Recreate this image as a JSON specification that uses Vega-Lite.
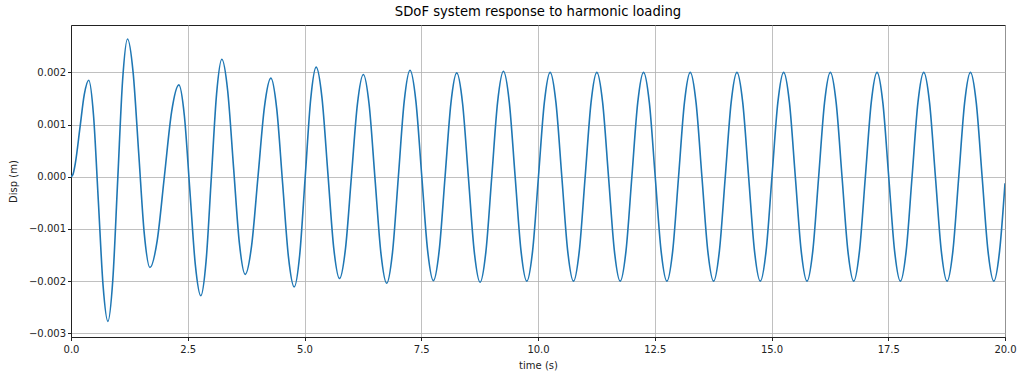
{
  "$schema": "https://vega.github.io/schema/vega-lite/v6.json",
  "width": 934,
  "height": 312,
  "autosize": "none",
  "padding": {"left": 71, "top": 25, "right": 19, "bottom": 41},
  "title": {"text": "SDoF system response to harmonic loading", "fontSize": 13.2, "font": "DejaVu Sans", "fontWeight": "normal", "color": "#000", "offset": 6, "anchor": "middle"},
  "config": {
    "view": {"stroke": "#222", "strokeWidth": 1},
    "axis": {
      "labelFont": "DejaVu Sans", "labelFontSize": 10, "labelColor": "#222",
      "titleFont": "DejaVu Sans", "titleFontSize": 10, "titleFontWeight": "normal", "titleColor": "#222",
      "grid": true, "gridColor": "#b0b0b0", "gridWidth": 0.8,
      "domainColor": "#222", "tickColor": "#222", "tickSize": 3.5, "labelPadding": 2,
      "labelFlush": false
    }
  },
  "data": {"values": [
    {"t": 0, "d": 0},
    {"t": 0.04, "d": 0.00004},
    {"t": 0.095, "d": 0.000271},
    {"t": 0.19, "d": 0.000925},
    {"t": 0.285, "d": 0.001579},
    {"t": 0.38, "d": 0.00185},
    {"t": 0.4825, "d": 0.001174},
    {"t": 0.585, "d": -0.00046},
    {"t": 0.6875, "d": -0.002094},
    {"t": 0.79, "d": -0.00277},
    {"t": 0.895, "d": -0.001978},
    {"t": 1.0, "d": -0.000065},
    {"t": 1.105, "d": 0.001848},
    {"t": 1.21, "d": 0.00264},
    {"t": 1.33, "d": 0.001999},
    {"t": 1.45, "d": 0.00045},
    {"t": 1.57, "d": -0.001099},
    {"t": 1.69, "d": -0.00174},
    {"t": 1.845, "d": -0.001228},
    {"t": 2.0, "d": 0.00001},
    {"t": 2.155, "d": 0.001248},
    {"t": 2.31, "d": 0.00176},
    {"t": 2.4275, "d": 0.001169},
    {"t": 2.545, "d": -0.00026},
    {"t": 2.6625, "d": -0.001689},
    {"t": 2.78, "d": -0.00228},
    {"t": 2.8925, "d": -0.001617},
    {"t": 3.005, "d": -0.000015},
    {"t": 3.1175, "d": 0.001587},
    {"t": 3.23, "d": 0.00225},
    {"t": 3.355, "d": 0.001647},
    {"t": 3.48, "d": 0.00019},
    {"t": 3.605, "d": -0.001267},
    {"t": 3.73, "d": -0.00187},
    {"t": 3.8675, "d": -0.00132},
    {"t": 4.005, "d": 0.00001},
    {"t": 4.1425, "d": 0.00134},
    {"t": 4.28, "d": 0.00189},
    {"t": 4.405, "d": 0.001304},
    {"t": 4.53, "d": -0.00011},
    {"t": 4.655, "d": -0.001524},
    {"t": 4.78, "d": -0.00211},
    {"t": 4.8975, "d": -0.001494},
    {"t": 5.015, "d": -0.000005},
    {"t": 5.1325, "d": 0.001484},
    {"t": 5.25, "d": 0.0021},
    {"t": 5.375, "d": 0.001507},
    {"t": 5.5, "d": 0.000075},
    {"t": 5.625, "d": -0.001357},
    {"t": 5.75, "d": -0.00195},
    {"t": 5.8775, "d": -0.001378},
    {"t": 6.005, "d": 0.000005},
    {"t": 6.1325, "d": 0.001388},
    {"t": 6.26, "d": 0.00196},
    {"t": 6.385, "d": 0.001374},
    {"t": 6.51, "d": -0.00004},
    {"t": 6.635, "d": -0.001454},
    {"t": 6.76, "d": -0.00204},
    {"t": 6.885, "d": -0.001443},
    {"t": 7.01, "d": 0},
    {"t": 7.135, "d": 0.001443},
    {"t": 7.26, "d": 0.00204},
    {"t": 7.385, "d": 0.00145},
    {"t": 7.51, "d": 0.000025},
    {"t": 7.635, "d": -0.0014},
    {"t": 7.76, "d": -0.00199},
    {"t": 7.885, "d": -0.001407},
    {"t": 8.01, "d": 0},
    {"t": 8.135, "d": 0.001407},
    {"t": 8.26, "d": 0.00199},
    {"t": 8.385, "d": 0.001403},
    {"t": 8.51, "d": -0.000015},
    {"t": 8.635, "d": -0.001433},
    {"t": 8.76, "d": -0.00202},
    {"t": 8.885, "d": -0.001429},
    {"t": 9.01, "d": 0},
    {"t": 9.135, "d": 0.001429},
    {"t": 9.26, "d": 0.00202},
    {"t": 9.385, "d": 0.001431},
    {"t": 9.51, "d": 0.00001},
    {"t": 9.635, "d": -0.001411},
    {"t": 9.76, "d": -0.002},
    {"t": 9.885, "d": -0.001414},
    {"t": 10.01, "d": 0},
    {"t": 10.135, "d": 0.001414},
    {"t": 10.26, "d": 0.002},
    {"t": 10.385, "d": 0.001414},
    {"t": 10.51, "d": 0},
    {"t": 10.635, "d": -0.001414},
    {"t": 10.76, "d": -0.002},
    {"t": 10.885, "d": -0.001414},
    {"t": 11.01, "d": 0},
    {"t": 11.135, "d": 0.001414},
    {"t": 11.26, "d": 0.002},
    {"t": 11.385, "d": 0.001414},
    {"t": 11.51, "d": 0},
    {"t": 11.635, "d": -0.001414},
    {"t": 11.76, "d": -0.002},
    {"t": 11.885, "d": -0.001414},
    {"t": 12.01, "d": 0},
    {"t": 12.135, "d": 0.001414},
    {"t": 12.26, "d": 0.002},
    {"t": 12.385, "d": 0.001414},
    {"t": 12.51, "d": 0},
    {"t": 12.635, "d": -0.001414},
    {"t": 12.76, "d": -0.002},
    {"t": 12.885, "d": -0.001414},
    {"t": 13.01, "d": 0},
    {"t": 13.135, "d": 0.001414},
    {"t": 13.26, "d": 0.002},
    {"t": 13.385, "d": 0.001414},
    {"t": 13.51, "d": 0},
    {"t": 13.635, "d": -0.001414},
    {"t": 13.76, "d": -0.002},
    {"t": 13.885, "d": -0.001414},
    {"t": 14.01, "d": 0},
    {"t": 14.135, "d": 0.001414},
    {"t": 14.26, "d": 0.002},
    {"t": 14.385, "d": 0.001414},
    {"t": 14.51, "d": 0},
    {"t": 14.635, "d": -0.001414},
    {"t": 14.76, "d": -0.002},
    {"t": 14.885, "d": -0.001414},
    {"t": 15.01, "d": 0},
    {"t": 15.135, "d": 0.001414},
    {"t": 15.26, "d": 0.002},
    {"t": 15.385, "d": 0.001414},
    {"t": 15.51, "d": 0},
    {"t": 15.635, "d": -0.001414},
    {"t": 15.76, "d": -0.002},
    {"t": 15.885, "d": -0.001414},
    {"t": 16.01, "d": 0},
    {"t": 16.135, "d": 0.001414},
    {"t": 16.26, "d": 0.002},
    {"t": 16.385, "d": 0.001414},
    {"t": 16.51, "d": 0},
    {"t": 16.635, "d": -0.001414},
    {"t": 16.76, "d": -0.002},
    {"t": 16.885, "d": -0.001414},
    {"t": 17.01, "d": 0},
    {"t": 17.135, "d": 0.001414},
    {"t": 17.26, "d": 0.002},
    {"t": 17.385, "d": 0.001414},
    {"t": 17.51, "d": 0},
    {"t": 17.635, "d": -0.001414},
    {"t": 17.76, "d": -0.002},
    {"t": 17.885, "d": -0.001414},
    {"t": 18.01, "d": 0},
    {"t": 18.135, "d": 0.001414},
    {"t": 18.26, "d": 0.002},
    {"t": 18.385, "d": 0.001414},
    {"t": 18.51, "d": 0},
    {"t": 18.635, "d": -0.001414},
    {"t": 18.76, "d": -0.002},
    {"t": 18.885, "d": -0.001414},
    {"t": 19.01, "d": 0},
    {"t": 19.135, "d": 0.001414},
    {"t": 19.26, "d": 0.002},
    {"t": 19.385, "d": 0.001414},
    {"t": 19.51, "d": 0},
    {"t": 19.635, "d": -0.001414},
    {"t": 19.76, "d": -0.002},
    {"t": 19.885, "d": -0.001414},
    {"t": 20.0, "d": -0.000126}
  ]},
  "mark": {"type": "line", "interpolate": "monotone", "color": "#1f77b4", "strokeWidth": 1.6, "clip": true},
  "encoding": {
    "x": {"field": "t", "type": "quantitative", "scale": {"domain": [0, 20], "nice": false, "zero": false},
      "axis": {"title": "time (s)", "values": [0, 2.5, 5, 7.5, 10, 12.5, 15, 17.5, 20], "format": ".1f", "labelPadding": 4, "titlePadding": 6}},
    "y": {"field": "d", "type": "quantitative", "scale": {"domain": [-0.00307, 0.002907], "nice": false, "zero": false},
      "axis": {"title": "Disp (m)", "values": [-0.003, -0.002, -0.001, 0, 0.001, 0.002], "format": ".3f", "titlePadding": 10}}
  }
}
